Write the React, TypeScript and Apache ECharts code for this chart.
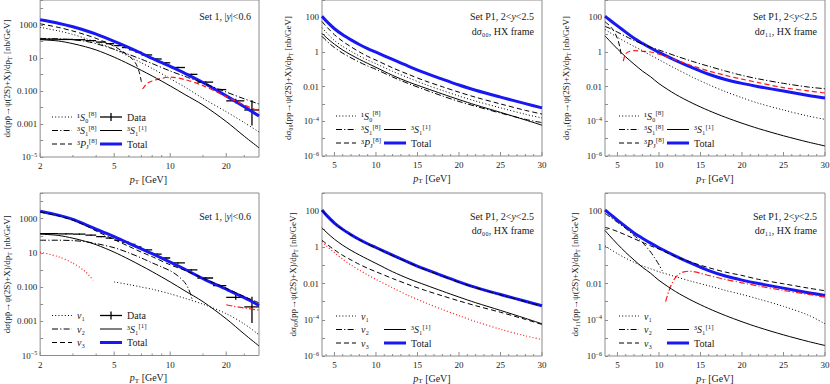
import React, { useEffect, useRef } from "react";
import * as echarts from "echarts";

const FONT = "'Liberation Serif', 'DejaVu Serif', serif";
const BLUE = "#1818f2";
const RED = "#ff1a1a";
const FRAME = "#8c8c8c";
const INK = "#1a1a1a";

const DOT = [1, 2.2];
const DASHDOT = [6, 2.2, 1.2, 2.2];
const DASH = [5, 3];

// ---------------- Tevatron, Set 1, |y|<0.6 ----------------
const PT_TEV = [2, 2.5, 3, 3.5, 4, 5, 6, 7, 8, 10, 12, 15, 20, 25, 30];
const TEV_CS = [125, 105, 72, 47, 30, 11, 4.2, 1.75, 0.8, 0.2, 0.06, 0.014, 0.0014, 0.00018, 0.000036];
// top-left panel
const TL_TOTAL = [2000, 1250, 760, 450, 270, 100, 42, 19, 9.2, 3.0, 1.15, 0.32, 0.05, 0.011, 0.003];
const TL_1S0 = [700, 430, 260, 150, 90, 33, 12, 5, 2.3, 0.55, 0.17, 0.035, 0.0055, 0.0012, 0.00033];
const TL_3S1 = [150, 140, 125, 100, 72, 33, 16, 8.2, 4.5, 1.6, 0.75, 0.3, 0.085, 0.033, 0.016];
const TL_3PJ_PT = [2, 2.5, 3, 3.5, 4, 5, 6, 6.5, 6.8, 7];
const TL_3PJ = [1150, 700, 420, 250, 150, 50, 13, 5, 1.5, 0.35];
const TL_3PJ_NEG_PT = [7.1, 7.5, 8, 9, 10, 12, 15, 20, 25, 30];
const TL_3PJ_NEG = [0.13, 0.28, 0.4, 0.58, 0.68, 0.48, 0.21, 0.045, 0.014, 0.006];
// bottom-left panel
const BL_TOTAL = [2700, 1600, 900, 450, 240, 90, 36, 17, 9, 2.9, 1.1, 0.31, 0.075, 0.024, 0.0085];
const BL_V3 = [2450, 1450, 800, 400, 190, 60, 24, 11, 6, 2.0, 0.95, 0.33, 0.085, 0.028, 0.012];
const BL_V2_PT = [2, 2.5, 3, 3.5, 4, 5, 6, 7, 8, 9, 10, 11, 12, 12.6, 13.1];
const BL_V2 = [55, 55, 52, 45, 35, 20, 10, 5, 2.6, 1.5, 0.9, 0.45, 0.18, 0.07, 0.02];
const BL_V2_NEG_PT = [20, 22, 25, 28, 30];
const BL_V2_NEG = [0.0093, 0.0075, 0.006, 0.005, 0.0045];
const BL_V1_NEG_PT = [2, 2.5, 3, 3.5, 3.85];
const BL_V1_NEG = [11, 6, 2.5, 0.8, 0.25];
const BL_V1_PT = [5, 6, 7, 8, 10, 12, 15, 20, 25, 30];
const BL_V1 = [0.2, 0.14, 0.1, 0.075, 0.04, 0.022, 0.01, 0.0028, 0.0007, 0.00016];
// CDF data
const DATA_PT = [2.25, 2.75, 3.25, 3.75, 4.25, 4.75, 5.25, 5.75, 6.25, 6.75, 7.5, 8.5, 9.5, 11, 13, 15.5, 18.5, 22.5, 27.5];
const DATA_LO = [2, 2.5, 3, 3.5, 4, 4.5, 5, 5.5, 6, 6.5, 7, 8, 9, 10, 12, 14, 17, 20, 25];
const DATA_HI = [2.5, 3, 3.5, 4, 4.5, 5, 5.5, 6, 6.5, 7, 8, 9, 10, 12, 14, 17, 20, 25, 30];
const DATA_Y = [135, 130, 125, 110, 90, 72, 55, 42, 31, 22, 15, 8.5, 5, 2.6, 1.0, 0.34, 0.12, 0.025, 0.007];
const DATA_YLO = [124, 120, 115, 101, 83, 66, 50, 38.5, 28.5, 20, 13.8, 7.8, 4.6, 2.35, 0.9, 0.3, 0.105, 0.018, 0.0008];
const DATA_YHI = [146, 140, 135, 119, 97, 78, 60, 45.5, 33.5, 24, 16.2, 9.2, 5.4, 2.85, 1.1, 0.38, 0.135, 0.034, 0.027];

// ---------------- LHCb, Set P1, 2<y<2.5 ----------------
const PT_LHCB = [3.5, 4, 5, 6, 7, 8, 9, 10, 12, 14, 16, 18, 20, 22, 25, 28, 30];
// dsigma_00
const S00_TOTAL = [115, 62, 22, 9.8, 5.0, 2.7, 1.58, 0.98, 0.37, 0.145, 0.06, 0.027, 0.0125, 0.0062, 0.0025, 0.00105, 0.0006];
const S00_CS = [12, 7.0, 2.8, 1.3, 0.68, 0.38, 0.22, 0.13, 0.045, 0.018, 0.0082, 0.0038, 0.0018, 0.00088, 0.00033, 0.00012, 0.00006];
const S00_1S0 = [25.3, 13.6, 4.6, 2.1, 1.09, 0.59, 0.34, 0.21, 0.077, 0.031, 0.013, 0.006, 0.0029, 0.00147, 0.0006, 0.000255, 0.000156];
const S00_3S1 = [8.05, 4.6, 1.8, 0.85, 0.46, 0.26, 0.155, 0.1, 0.036, 0.0145, 0.0064, 0.0029, 0.0014, 0.00074, 0.0003, 0.00013, 0.000084];
const S00_3PJ = [57.5, 30.4, 9.9, 4.1, 1.98, 1.01, 0.56, 0.34, 0.122, 0.049, 0.0209, 0.0099, 0.0048, 0.00246, 0.00101, 0.00043, 0.000264];
const S00_V1_NEG = [2.1, 1.25, 0.5, 0.22, 0.105, 0.055, 0.03, 0.017, 0.0058, 0.0021, 0.00085, 0.00037, 0.00017, 0.00008, 0.00003, 0.000013, 0.000008];
const S00_V2 = [110, 59, 21, 9.3, 4.75, 2.57, 1.5, 0.93, 0.35, 0.137, 0.057, 0.0255, 0.0118, 0.0059, 0.00238, 0.001, 0.00057];
const S00_V3 = [2.5, 1.6, 0.72, 0.36, 0.2, 0.115, 0.07, 0.045, 0.019, 0.0085, 0.0041, 0.0021, 0.0011, 0.0006, 0.00026, 0.000105, 0.000055];
// dsigma_11
const S11_TOTAL = [115, 75, 32, 14, 6.2, 3.2, 1.7, 0.95, 0.33, 0.125, 0.052, 0.026, 0.0155, 0.01, 0.0056, 0.0031, 0.0022];
const S11_CS = [8.5, 4.7, 1.5, 0.52, 0.2, 0.08, 0.037, 0.015, 0.0036, 0.00113, 0.000416, 0.000172, 0.000078, 0.000038, 0.0000147, 0.0000063, 0.0000038];
const S11_1S0 = [20, 14, 7, 3.8, 2.1, 1.2, 0.65, 0.36, 0.11, 0.036, 0.013, 0.0052, 0.0023, 0.0011, 0.00045, 0.0002, 0.00013];
const S11_3S1 = [30, 24, 14, 8, 4.6, 2.9, 1.9, 1.3, 0.6, 0.29, 0.15, 0.08, 0.045, 0.028, 0.0155, 0.0095, 0.0076];
const S11_3PJ_PT = [3.5, 4, 4.5, 5, 5.3, 5.5];
const S11_3PJ = [55, 35, 18, 6, 1.8, 0.5];
const S11_3PJ_NEG_PT = [5.7, 6, 6.5, 7, 8, 9, 10, 12, 14, 16, 18, 20, 22, 25, 28, 30];
const S11_3PJ_NEG = [0.3, 0.8, 1.1, 1.2, 1.1, 1.0, 0.75, 0.35, 0.16, 0.08, 0.045, 0.027, 0.017, 0.0088, 0.0057, 0.0043];
const S11_V1 = [1.2, 0.85, 0.45, 0.25, 0.15, 0.095, 0.065, 0.045, 0.024, 0.013, 0.0075, 0.0042, 0.0025, 0.0014, 0.00055, 0.00018, 0.00006];
const S11_V2_PT = [3.5, 4, 5, 6, 7, 7.65, 8, 9, 9.5, 10, 10.4];
const S11_V2 = [75, 52, 24, 11, 4.5, 2.6, 1.9, 0.55, 0.25, 0.11, 0.05];
const S11_V2_NEG_PT = [10.8, 11.2, 11.6, 12, 12.5, 13, 13.7, 14.5, 15, 16, 17, 18, 20, 22, 25, 28, 30];
const S11_V2_NEG = [0.001, 0.004, 0.011, 0.022, 0.035, 0.044, 0.048, 0.043, 0.037, 0.028, 0.0215, 0.017, 0.011, 0.0073, 0.0042, 0.0025, 0.0018];
const S11_V3 = [12.6, 11, 7.5, 4.8, 3.0, 1.9, 1.2, 0.8, 0.31, 0.145, 0.075, 0.043, 0.028, 0.017, 0.0097, 0.0056, 0.004];

// ---------------- tick labels ----------------
const TEV_X_MAJOR = [2, 5, 10, 20];
const TEV_X_MINOR = [3, 4, 6, 7, 8, 9, 15, 25];
const LHCB_X_MAJOR = [5, 10, 15, 20, 25, 30];
const LHCB_X_MINOR = [4, 6, 7, 8, 9, 11, 12, 13, 14, 16, 17, 18, 19, 21, 22, 23, 24, 26, 27, 28, 29];
const TEV_Y_LABELS: Record<string, string> = { "3": "1000", "1": "10", "-1": "0.100", "-3": "0.001", "-5": "10{sup|−5}" };
const LHCB_Y_LABELS: Record<string, string> = { "2": "100", "0": "1", "-2": "0.01", "-4": "10{sup|−4}", "-6": "10{sup|−6}" };

const TEV_YNAME = "dσ(pp̄→ψ(2S)+X)/dp{sub|T} [nb/GeV]";
const S00_YNAME = "dσ₀₀(pp→ψ(2S)+X)/dp{sub|T} [nb/GeV]";
const S11_YNAME = "dσ₁₁(pp→ψ(2S)+X)/dp{sub|T} [nb/GeV]";

type Leg = { col: number; row: number; kind: string; label: string };
const LEG_TEV: Leg[] = [
  { col: 0, row: 0, kind: "dot", label: "¹{i|S}₀{sup|[8]}" },
  { col: 0, row: 1, kind: "dashdot", label: "³{i|S}₁{sup|[8]}" },
  { col: 0, row: 2, kind: "dash", label: "³{i|P}{sub|J}{sup|[8]}" },
  { col: 1, row: 0, kind: "data", label: "Data" },
  { col: 1, row: 1, kind: "solid", label: "³{i|S}₁{sup|[1]}" },
  { col: 1, row: 2, kind: "total", label: "Total" },
];
const LEG_LHCB: Leg[] = [
  { col: 0, row: 0, kind: "dot", label: "¹{i|S}₀{sup|[8]}" },
  { col: 0, row: 1, kind: "dashdot", label: "³{i|S}₁{sup|[8]}" },
  { col: 0, row: 2, kind: "dash", label: "³{i|P}{sub|J}{sup|[8]}" },
  { col: 1, row: 1, kind: "solid", label: "³{i|S}₁{sup|[1]}" },
  { col: 1, row: 2, kind: "total", label: "Total" },
];
const LEG_TEV_V: Leg[] = [
  { col: 0, row: 0, kind: "dot", label: "{i|v}₁" },
  { col: 0, row: 1, kind: "dashdot", label: "{i|v}₂" },
  { col: 0, row: 2, kind: "dash", label: "{i|v}₃" },
  { col: 1, row: 0, kind: "data", label: "Data" },
  { col: 1, row: 1, kind: "solid", label: "³{i|S}₁{sup|[1]}" },
  { col: 1, row: 2, kind: "total", label: "Total" },
];
const LEG_LHCB_V: Leg[] = [
  { col: 0, row: 0, kind: "dot", label: "{i|v}₁" },
  { col: 0, row: 1, kind: "dashdot", label: "{i|v}₂" },
  { col: 0, row: 2, kind: "dash", label: "{i|v}₃" },
  { col: 1, row: 1, kind: "solid", label: "³{i|S}₁{sup|[1]}" },
  { col: 1, row: 2, kind: "total", label: "Total" },
];

const TITLE_TEV = ["Set 1, |{i|y}|<0.6"];
const TITLE_S00 = ["Set P1, 2<{i|y}<2.5", "d{i|σ}₀₀, HX frame"];
const TITLE_S11 = ["Set P1, 2<{i|y}<2.5", "d{i|σ}₁₁, HX frame"];

interface PanelDef {
  left: number; top: number; width: number; height: number;
  xLog: boolean; xMin: number; xMax: number;
  yMin: number; yMax: number; yLabels: Record<string, string>;
  yName: string; nameGap: number;
  xMajor: number[]; xMinor: number[];
  titles: string[]; titleY: number[];
  legend: Leg[];
}

const PANELS: PanelDef[] = [
  { left: 38, top: -8, width: 221, height: 165, xLog: true, xMin: 2, xMax: 30, yMin: 1e-5, yMax: 31623, yLabels: TEV_Y_LABELS, yName: TEV_YNAME, nameGap: 22, xMajor: TEV_X_MAJOR, xMinor: TEV_X_MINOR, titles: TITLE_TEV, titleY: [16], legend: LEG_TEV },
  { left: 322, top: -4, width: 220, height: 160, xLog: false, xMin: 3.5, xMax: 30, yMin: 1e-6, yMax: 1000, yLabels: LHCB_Y_LABELS, yName: S00_YNAME, nameGap: 28, xMajor: LHCB_X_MAJOR, xMinor: LHCB_X_MINOR, titles: TITLE_S00, titleY: [16, 31.5], legend: LEG_LHCB },
  { left: 605, top: -4, width: 220, height: 160, xLog: false, xMin: 3.5, xMax: 30, yMin: 1e-6, yMax: 1000, yLabels: LHCB_Y_LABELS, yName: S11_YNAME, nameGap: 33, xMajor: LHCB_X_MAJOR, xMinor: LHCB_X_MINOR, titles: TITLE_S11, titleY: [16, 31.5], legend: LEG_LHCB },
  { left: 38, top: 193, width: 221, height: 162.5, xLog: true, xMin: 2, xMax: 30, yMin: 1e-5, yMax: 31623, yLabels: TEV_Y_LABELS, yName: TEV_YNAME, nameGap: 22, xMajor: TEV_X_MAJOR, xMinor: TEV_X_MINOR, titles: TITLE_TEV, titleY: [216], legend: LEG_TEV_V },
  { left: 322, top: 193, width: 220, height: 163, xLog: false, xMin: 3.5, xMax: 30, yMin: 1e-6, yMax: 1000, yLabels: LHCB_Y_LABELS, yName: S00_YNAME, nameGap: 19, xMajor: LHCB_X_MAJOR, xMinor: LHCB_X_MINOR, titles: TITLE_S00, titleY: [216, 230], legend: LEG_LHCB_V },
  { left: 605, top: 193, width: 220, height: 163, xLog: false, xMin: 3.5, xMax: 30, yMin: 1e-6, yMax: 1000, yLabels: LHCB_Y_LABELS, yName: S11_YNAME, nameGap: 24, xMajor: LHCB_X_MAJOR, xMinor: LHCB_X_MINOR, titles: TITLE_S11, titleY: [216, 230], legend: LEG_LHCB_V },
];

function pairs(xs: number[], ys: number[]) {
  return xs.map((x, i) => [x, ys[i]]);
}

function line(gi: number, xs: number[], ys: number[], color: string, width: number, dash: any) {
  return {
    type: "line", xAxisIndex: gi, yAxisIndex: gi, data: pairs(xs, ys),
    showSymbol: false, symbol: "none", smooth: 0.3,
    lineStyle: { color, width, type: dash, cap: "butt", join: "round" }, silent: true, clip: true,
  };
}

function dataSeries(gi: number) {
  return {
    type: "custom", xAxisIndex: gi, yAxisIndex: gi, silent: true, clip: true,
    data: DATA_PT.map((x, i) => [x, DATA_Y[i], DATA_LO[i], DATA_HI[i], DATA_YLO[i], DATA_YHI[i]]),
    encode: { x: 0, y: 1 },
    renderItem: (_p: any, api: any) => {
      const x = api.value(0), y = api.value(1);
      const c = api.coord([x, y]);
      const l = api.coord([api.value(2), y]);
      const r = api.coord([api.value(3), y]);
      const b = api.coord([x, api.value(4)]);
      const t = api.coord([x, api.value(5)]);
      const st = { stroke: "#000", lineWidth: 1.3 };
      return {
        type: "group",
        children: [
          { type: "line", shape: { x1: l[0], y1: c[1], x2: r[0], y2: c[1] }, style: st },
          { type: "line", shape: { x1: c[0], y1: t[1], x2: c[0], y2: b[1] }, style: st },
        ],
      };
    },
  };
}

function richSet(fs: number, color: string) {
  return {
    sup: { fontFamily: FONT, fontSize: Math.round(fs * 0.72), verticalAlign: "top", lineHeight: 7, color, fill: color },
    sub: { fontFamily: FONT, fontSize: Math.round(fs * 0.72), verticalAlign: "bottom", lineHeight: 7, color, fill: color },
    i: { fontFamily: FONT, fontSize: fs, fontStyle: "italic", color, fill: color },
  };
}

function buildOption() {
  const grid = PANELS.map((p) => ({
    left: p.left, top: p.top, width: p.width, height: p.height,
    show: true, borderColor: FRAME, borderWidth: 1, backgroundColor: "transparent",
    containLabel: false,
  }));
  const xAxis = PANELS.map((p, i) => ({
    type: p.xLog ? "log" : "value", logBase: 10, gridIndex: i, min: p.xMin, max: p.xMax,
    axisLabel: { show: false }, axisTick: { show: false }, axisLine: { show: false }, splitLine: { show: false },
  }));
  const yAxis = PANELS.map((p, i) => ({
    type: "log", logBase: 10, gridIndex: i, min: p.yMin, max: p.yMax, splitNumber: 10,
    axisLine: { show: false }, splitLine: { show: false },
    axisTick: { show: true, inside: true, length: 3, lineStyle: { color: FRAME, width: 1 } },
    axisLabel: {
      fontFamily: FONT, fontSize: 9, color: INK, margin: 3, lineHeight: 11,
      rich: richSet(9, INK),
      formatter: (v: number) => {
        const e = Math.log10(v);
        const r = Math.round(e);
        if (Math.abs(e - r) > 1e-6) return "";
        return p.yLabels[String(r)] ?? "";
      },
    },
    name: p.yName, nameLocation: "middle", nameGap: p.nameGap, nameRotate: 90,
    nameTextStyle: { fontFamily: FONT, fontSize: 9, color: INK, lineHeight: 12, rich: richSet(9, INK) },
  }));

  const s: any[] = [];
  // 0 top-left
  s.push(line(0, PT_TEV, TL_TOTAL, BLUE, 3, "solid"));
  s.push(line(0, PT_TEV, TL_1S0, "#000", 1, DOT));
  s.push(line(0, PT_TEV, TL_3S1, "#000", 1, DASHDOT));
  s.push(line(0, TL_3PJ_PT, TL_3PJ, "#000", 1, DASH));
  s.push(line(0, TL_3PJ_NEG_PT, TL_3PJ_NEG, RED, 1.2, DASH));
  s.push(line(0, PT_TEV, TEV_CS, "#000", 1, "solid"));
  s.push(dataSeries(0));
  // 1 top-middle
  s.push(line(1, PT_LHCB, S00_TOTAL, BLUE, 3, "solid"));
  s.push(line(1, PT_LHCB, S00_3PJ, "#000", 1, DASH));
  s.push(line(1, PT_LHCB, S00_1S0, "#000", 1, DOT));
  s.push(line(1, PT_LHCB, S00_3S1, "#000", 1, DASHDOT));
  s.push(line(1, PT_LHCB, S00_CS, "#000", 1, "solid"));
  // 2 top-right
  s.push(line(2, PT_LHCB, S11_TOTAL, BLUE, 3, "solid"));
  s.push(line(2, PT_LHCB, S11_3S1, "#000", 1, DASHDOT));
  s.push(line(2, S11_3PJ_PT, S11_3PJ, "#000", 1, DASH));
  s.push(line(2, S11_3PJ_NEG_PT, S11_3PJ_NEG, RED, 1.2, DASH));
  s.push(line(2, PT_LHCB, S11_1S0, "#000", 1, DOT));
  s.push(line(2, PT_LHCB, S11_CS, "#000", 1, "solid"));
  // 3 bottom-left
  s.push(line(3, PT_TEV, BL_TOTAL, BLUE, 3, "solid"));
  s.push(line(3, PT_TEV, BL_V3, "#000", 1, DASH));
  s.push(line(3, BL_V2_PT, BL_V2, "#000", 1, DASHDOT));
  s.push(line(3, BL_V2_NEG_PT, BL_V2_NEG, RED, 1.2, DASHDOT));
  s.push(line(3, BL_V1_NEG_PT, BL_V1_NEG, RED, 1.2, DOT));
  s.push(line(3, BL_V1_PT, BL_V1, "#000", 1, DOT));
  s.push(line(3, PT_TEV, TEV_CS, "#000", 1, "solid"));
  s.push(dataSeries(3));
  // 4 bottom-middle
  s.push(line(4, PT_LHCB, S00_TOTAL, BLUE, 3, "solid"));
  s.push(line(4, PT_LHCB, S00_V2, "#000", 1, DASHDOT));
  s.push(line(4, PT_LHCB, S00_V3, "#000", 1, DASH));
  s.push(line(4, PT_LHCB, S00_V1_NEG, RED, 1.2, DOT));
  s.push(line(4, PT_LHCB, S00_CS, "#000", 1, "solid"));
  // 5 bottom-right
  s.push(line(5, PT_LHCB, S11_TOTAL, BLUE, 3, "solid"));
  s.push(line(5, S11_V2_PT, S11_V2, "#000", 1, DASHDOT));
  s.push(line(5, S11_V2_NEG_PT, S11_V2_NEG, RED, 1.2, DASHDOT));
  s.push(line(5, PT_LHCB, S11_V3, "#000", 1, DASH));
  s.push(line(5, PT_LHCB, S11_V1, "#000", 1, DOT));
  s.push(line(5, PT_LHCB, S11_CS, "#000", 1, "solid"));

  return { animation: false, backgroundColor: "#fff", grid, xAxis, yAxis, series: s };
}

function text(x: number, y: number, str: string, fs: number, align: string) {
  return {
    type: "text", x, y, silent: true, z: 50,
    style: {
      text: str, fontFamily: FONT, fontSize: fs, fill: INK, align, verticalAlign: "middle",
      lineHeight: 13, rich: richSet(fs, INK),
    },
  };
}

function seg(x1: number, y1: number, x2: number, y2: number, stroke: string, lw: number, dash?: number[]) {
  return {
    type: "line", silent: true, z: 50,
    shape: { x1, y1, x2, y2 },
    style: { stroke, lineWidth: lw, lineDash: dash ?? null },
  };
}

function buildGraphics(chart: any) {
  const els: any[] = [];
  PANELS.forEach((p, i) => {
    const bottom = p.top + p.height;
    const right = p.left + p.width;
    const px = (v: number) => chart.convertToPixel({ xAxisIndex: i }, v) as number;
    p.xMinor.forEach((v) => {
      const x = px(v);
      els.push(seg(x, bottom, x, bottom - 2, FRAME, 1));
    });
    p.xMajor.forEach((v) => {
      const x = px(v);
      els.push(seg(x, bottom, x, bottom - 4, FRAME, 1));
      els.push(text(x, bottom + 9, String(v), 9, "center"));
    });
    els.push(text(p.left + p.width / 2, bottom + 22, "{i|p}{sub|T} [GeV]", 10, "center"));
    p.titles.forEach((t, k) => els.push(text(right - 8, p.titleY[k], t, 10, "right")));
    const rows = [bottom - 40, bottom - 26.5, bottom - 13];
    const cols = [
      { x1: p.left + 14, x2: p.left + 34, tx: p.left + 39 },
      { x1: p.left + 62, x2: p.left + 84, tx: p.left + 89 },
    ];
    p.legend.forEach((l) => {
      const c = cols[l.col];
      const y = rows[l.row];
      if (l.kind === "dot") els.push(seg(c.x1, y, c.x2, y, "#000", 1, DOT));
      else if (l.kind === "dashdot") els.push(seg(c.x1, y, c.x2, y, "#000", 1, DASHDOT));
      else if (l.kind === "dash") els.push(seg(c.x1, y, c.x2, y, "#000", 1, DASH));
      else if (l.kind === "solid") els.push(seg(c.x1, y, c.x2, y, "#000", 1));
      else if (l.kind === "total") els.push(seg(c.x1, y, c.x2, y, BLUE, 3));
      else if (l.kind === "data") {
        els.push(seg(c.x1, y, c.x2, y, "#000", 1.3));
        const mx = (c.x1 + c.x2) / 2;
        els.push(seg(mx, y - 4, mx, y + 4, "#000", 1.3));
      }
      els.push(text(c.tx, y, l.label, 10, "left"));
    });
  });
  return els;
}

export default function App() {
  const ref = useRef<HTMLDivElement>(null);
  useEffect(() => {
    const chart = echarts.init(ref.current!, null, { renderer: "svg" });
    chart.setOption(buildOption() as any);
    chart.setOption({ graphic: buildGraphics(chart) } as any);
    return () => chart.dispose();
  }, []);
  return (
    <div
      ref={ref}
      style={{ position: "fixed", left: 0, top: 0, width: 830, height: 384, background: "#fff" }}
    />
  );
}
